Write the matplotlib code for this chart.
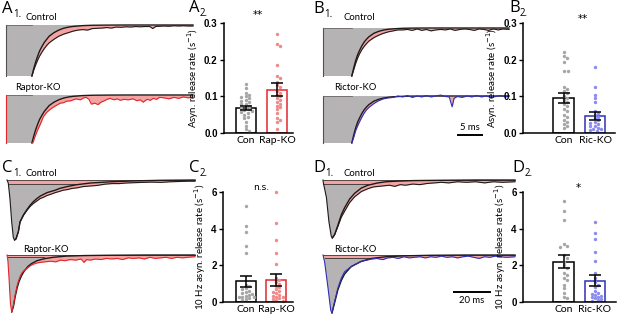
import numpy as np
import matplotlib
matplotlib.use("Agg")
import matplotlib.pyplot as plt

W, H = 617, 315
plt.rcParams['font.family'] = ['Lato', 'DejaVu Sans']

# ---------------- data: bar charts ----------------
groups_a = ["Con", "Rap-KO"]
groups_b = ["Con", "Ric-KO"]

a2_con = [0.135, 0.122, 0.11, 0.105, 0.10, 0.098, 0.095, 0.09, 0.088, 0.085, 0.08, 0.078,
          0.075, 0.07, 0.068, 0.065, 0.062, 0.06, 0.058, 0.055, 0.05, 0.045, 0.04, 0.03, 0.02, 0.01, 0.005]
a2_rap = [0.27, 0.243, 0.237, 0.185, 0.155, 0.15, 0.14, 0.13, 0.125, 0.115, 0.11, 0.105, 0.1,
          0.095, 0.09, 0.085, 0.08, 0.075, 0.07, 0.065, 0.055, 0.04, 0.035, 0.03, 0.012]
a2_mean = [0.068, 0.118]
a2_sem = [0.006, 0.018]

b2_con = [0.22, 0.21, 0.205, 0.195, 0.17, 0.17, 0.125, 0.12, 0.115, 0.11, 0.1, 0.095, 0.09,
          0.085, 0.08, 0.075, 0.065, 0.06, 0.05, 0.045, 0.035, 0.03, 0.025, 0.02, 0.015]
b2_ric = [0.18, 0.125, 0.105, 0.095, 0.085, 0.06, 0.055, 0.05, 0.045, 0.04, 0.035, 0.03, 0.028,
          0.025, 0.02, 0.018, 0.015, 0.012, 0.01, 0.008, 0.005]
b2_mean = [0.095, 0.046]
b2_sem = [0.013, 0.01]

c2_con = [5.25, 4.15, 3.8, 3.05, 2.65, 0.95, 0.85, 0.75, 0.7, 0.6, 0.55, 0.5, 0.45, 0.4, 0.35,
          0.3, 0.28, 0.25, 0.2, 0.15, 0.1]
c2_rap = [6.0, 4.3, 3.4, 2.7, 2.05, 1.3, 1.2, 1.1, 1.0, 0.9, 0.8, 0.7, 0.6, 0.55, 0.5, 0.4,
          0.35, 0.3, 0.25, 0.2, 0.15, 0.1, 0.05]
c2_mean = [1.12, 1.2]
c2_sem = [0.3, 0.33]

d2_con = [5.5, 4.95, 4.45, 3.15, 3.05, 3.0, 2.55, 2.4, 2.2, 2.0, 1.85, 1.6, 1.5, 1.3, 1.2,
          0.95, 0.75, 0.5, 0.3, 0.2]
d2_ric = [4.35, 3.75, 3.45, 2.75, 2.25, 1.6, 1.3, 1.1, 0.95, 0.8, 0.6, 0.5, 0.45, 0.4, 0.35,
          0.3, 0.25, 0.2, 0.15, 0.1, 0.05]
d2_mean = [2.2, 1.17]
d2_sem = [0.35, 0.3]

# ---------------- data: traces (ms, normalised amplitude) ----------------
a_fit_t = [5.4, 5.8, 6.2, 6.6, 7.0, 7.5, 8.0, 8.5, 9.0, 10, 11, 12, 13, 14, 16, 18, 21, 25, 39]
a_fit_v = [-1.0, -0.85, -0.72, -0.61, -0.51, -0.42, -0.34, -0.28, -0.22, -0.15, -0.10, -0.064,
           -0.042, -0.028, -0.012, -0.005, -0.002, 0.0, 0.0]
a_con_t = [5.4, 5.8, 6.2, 6.6, 7.0, 7.5, 8.0, 8.5, 9.0, 10, 11, 12, 13, 14, 15, 16, 17, 18, 19,
           20, 21, 22, 23, 24, 25, 26, 27, 28, 29, 30, 30.6, 31.2, 32, 33, 34, 35, 36, 37, 38, 39]
a_con_v = [-1.0, -0.88, -0.78, -0.69, -0.61, -0.53, -0.46, -0.40, -0.35, -0.28, -0.22, -0.18,
           -0.15, -0.12, -0.10, -0.09, -0.10, -0.07, -0.065, -0.06, -0.05, -0.06, -0.04, -0.045,
           -0.035, -0.04, -0.03, -0.035, -0.03, -0.03, -0.07, -0.03, -0.025, -0.02, -0.025,
           -0.015, -0.02, -0.015, -0.02, -0.02]
a_rap_t = [5.6, 6.0, 6.5, 7.1, 7.8, 8.5, 9.2, 9.9, 10.6, 11.3, 12.0, 12.6, 13.5, 14.6, 15.5,
           16.2, 16.7, 17.3, 17.8, 18.5, 19.2, 19.8, 20.5, 21.1, 21.7, 22.5, 23.2, 23.8, 24.6,
           25.5, 26.5, 27.3, 28.0, 28.6, 29.4, 30.1, 30.7, 31.4, 32.0, 33, 34, 35, 36, 37, 38, 39]
a_rap_v = [-1.0, -0.88, -0.75, -0.62, -0.45, -0.36, -0.30, -0.25, -0.21, -0.17, -0.16, -0.13,
           -0.12, -0.08, -0.10, -0.06, -0.05, -0.09, -0.19, -0.17, -0.20, -0.15, -0.12, -0.09,
           -0.07, -0.10, -0.08, -0.11, -0.09, -0.10, -0.08, -0.12, -0.10, -0.15, -0.09, -0.11,
           -0.07, -0.09, -0.05, -0.06, -0.08, -0.05, -0.07, -0.04, -0.06, -0.04]

b_fit_t = [6.0, 6.4, 6.8, 7.2, 7.6, 8.1, 8.6, 9.1, 9.6, 10.6, 11.6, 12.6, 13.6, 14.6, 16.6,
           18.6, 22, 26, 38.75]
b_fit_v = [-1.0, -0.83, -0.68, -0.56, -0.47, -0.37, -0.29, -0.23, -0.18, -0.11, -0.07, -0.043,
           -0.027, -0.017, -0.006, -0.002, 0.0, 0.0, 0.0]
b_con_t = [6.0, 6.4, 6.8, 7.2, 7.6, 8.1, 8.6, 9.1, 9.6, 10.6, 11.6, 12.6, 13.6, 14.6, 15.6,
           16.6, 17.6, 18.6, 19.6, 20.6, 21.5, 22.5, 23.5, 24.5, 25.5, 26.5, 27.5, 28.5, 29.5,
           30.5, 31.5, 32.5, 33.5, 34.5, 35.5, 36.5, 37.5, 38.75]
b_con_v = [-1.0, -0.87, -0.74, -0.63, -0.54, -0.45, -0.38, -0.32, -0.27, -0.2, -0.15, -0.11,
           -0.08, -0.06, -0.04, -0.04, -0.03, -0.05, -0.02, -0.05, -0.03, -0.06, -0.04, -0.03,
           -0.04, -0.02, -0.05, -0.03, -0.02, -0.03, -0.05, -0.02, -0.03, -0.05, -0.02, -0.04,
           -0.02, -0.03]
b_ric_t = [6.0, 6.4, 6.8, 7.2, 7.6, 8.1, 8.6, 9.1, 9.6, 10.6, 11.6, 12.6, 13.6, 14.6, 15.6,
           16.6, 17.6, 18.6, 19.6, 20.6, 21.5, 22.5, 23.5, 24.5, 25.5, 26.3, 26.9, 27.3, 28.0,
           29, 30, 31, 32, 33, 34, 35, 36, 37, 38, 38.75]
b_ric_v = [-1.0, -0.88, -0.74, -0.64, -0.55, -0.45, -0.36, -0.29, -0.24, -0.16, -0.10, -0.06,
           -0.04, -0.03, 0.0, -0.02, 0.01, -0.03, 0.0, -0.02, 0.01, -0.02, 0.0, 0.02, -0.01,
           -0.02, -0.23, -0.05, -0.01, -0.03, 0.0, -0.02, 0.01, -0.02, 0.0, -0.03, -0.01, 0.01,
           -0.02, 0.0]

c_con_t = [0.0, 0.7, 1.6, 2.6, 3.5, 4.2, 5.0, 6.3, 7.2, 9.1, 10.9, 12.8, 14.6, 16.5, 18.3, 20,
           22, 24, 26.7, 29, 31, 33.3, 36, 38.9, 42, 46, 50, 54, 58, 62, 66, 70, 75, 80, 85, 90,
           95, 100, 104]
c_con_v = [0.0, -0.05, -0.3, -0.7, -0.96, -1.0, -0.98, -0.86, -0.70, -0.59, -0.51, -0.44, -0.39,
           -0.35, -0.31, -0.29, -0.26, -0.24, -0.21, -0.19, -0.17, -0.16, -0.14, -0.13, -0.11,
           -0.10, -0.09, -0.07, -0.06, -0.06, -0.05, -0.045, -0.04, -0.035, -0.04, -0.03, -0.025,
           -0.02, -0.02]
c_con_fit_dt = [0, 0.8, 2.1, 3.0, 4.9, 6.7, 8.6, 10.4, 12.3, 14.1, 16, 18, 22.5, 25, 29, 34, 42,
                53, 66, 81, 99.8]
c_con_fit_v = [-1.0, -0.98, -0.86, -0.70, -0.58, -0.50, -0.42, -0.36, -0.31, -0.27, -0.24, -0.21,
               -0.17, -0.14, -0.11, -0.08, -0.05, -0.03, -0.015, -0.005, 0.0]
c_rap_t = [0.0, 0.5, 1.2, 1.9, 2.6, 3.3, 4.4, 5.4, 6.3, 7.2, 8.1, 9.5, 10.9, 12.8, 14.6, 16.5,
           18.3, 21, 24, 27, 29.6, 32, 35, 38, 41, 42.6, 44, 46, 49, 52, 55, 58, 61, 64, 67, 70,
           73, 76, 79, 82, 85, 88, 91, 94, 97, 100, 104]
c_rap_v = [0.0, -0.1, -0.45, -0.85, -1.0, -0.92, -0.72, -0.56, -0.46, -0.38, -0.32, -0.27, -0.24,
           -0.19, -0.16, -0.14, -0.13, -0.12, -0.11, -0.12, -0.09, -0.10, -0.08, -0.09, -0.07,
           -0.13, -0.08, -0.09, -0.07, -0.08, -0.06, -0.07, -0.06, -0.08, -0.05, -0.06, -0.05,
           -0.07, -0.04, -0.06, -0.05, -0.04, -0.06, -0.04, -0.05, -0.04, -0.03]
c_rap_fit_dt = [0, 1, 2, 3, 4, 5.5, 7, 9, 11, 14, 18, 23, 30, 40, 55, 75, 101.4]
c_rap_fit_v = [-1.0, -0.9, -0.72, -0.58, -0.47, -0.36, -0.28, -0.2, -0.15, -0.1, -0.065, -0.04,
               -0.02, -0.01, -0.004, 0.0, 0.0]

d_con_t = [0.0, 0.2, 1.9, 3.3, 4.6, 5.2, 6.5, 8.3, 10.2, 12.0, 14.8, 17.6, 21.3, 25, 28, 31,
           34, 37, 40, 43, 46, 50, 54, 58, 62, 66, 70, 75, 80, 85, 90, 95, 100, 107]
d_con_v = [0.0, -0.05, -0.3, -0.72, -0.97, -1.0, -0.94, -0.8, -0.64, -0.54, -0.39, -0.29, -0.2,
           -0.15, -0.12, -0.11, -0.1, -0.09, -0.11, -0.08, -0.09, -0.07, -0.08, -0.06, -0.05,
           -0.04, -0.05, -0.03, -0.04, -0.03, -0.05, -0.03, -0.04, -0.03]
d_con_fit_dt = [0, 1.3, 3.1, 5.0, 6.8, 9.6, 12.4, 16.1, 19.8, 25.4, 30, 36, 45, 60, 80, 101.8]
d_con_fit_v = [-1.0, -0.94, -0.78, -0.6, -0.48, -0.33, -0.23, -0.14, -0.09, -0.05, -0.03, -0.02,
               -0.01, -0.005, 0.0, 0.0]
d_ric_t = [0.0, 0.9, 2.8, 4.3, 5.0, 6.5, 8.3, 10.2, 12.0, 15.7, 21.3, 26.9, 30, 33.3, 36, 39,
           42, 45, 48, 51, 54, 57, 60, 63, 66, 69, 72, 75, 78, 81, 84, 87, 90, 93, 96, 99, 102,
           107]
d_ric_v = [0.0, -0.12, -0.57, -0.95, -1.0, -0.8, -0.57, -0.4, -0.29, -0.2, -0.11, -0.07, -0.06,
           -0.08, -0.05, -0.04, -0.06, -0.03, -0.05, -0.04, -0.03, -0.05, -0.03, -0.04, -0.02,
           -0.04, -0.03, -0.05, -0.03, -0.02, -0.04, -0.06, -0.03, -0.04, -0.02, -0.03, -0.04,
           -0.03]
d_ric_fit_dt = [0, 1.5, 3.3, 5.2, 7.0, 10.7, 16.3, 22, 30, 40, 55, 75, 102]
d_ric_fit_v = [-1.0, -0.82, -0.6, -0.44, -0.33, -0.2, -0.11, -0.06, -0.03, -0.015, -0.005, 0.0, 0.0]

# ---------------- styles ----------------
RED = '#e3262b'
BLUE = '#2f2fb8'
PINK = '#f4a3a3'
GRAY = '#b5b3b3'
DARK = '#1e1a1a'
PT_GRAY = '#a6a6a6'
PT_PINK = '#f08a8a'
PT_BLUE = '#8c8cf0'
LABEL_FONT = ['Open Sans', 'DejaVu Sans']

fig = plt.figure(figsize=(W / 100, H / 100), dpi=100)


def px_axes(x0, y0, x1, y1):
    return fig.add_axes([x0 / W, 1 - y1 / H, (x1 - x0) / W, (y1 - y0) / H])


def ftext(x, y, s, **kw):
    return fig.text(x / W, 1 - y / H, s, **kw)


def trace_ax(box, tmax):
    ax = px_axes(*box)
    ax.set_xlim(0, tmax)
    ax.set_ylim(-1, 0)
    ax.axis('off')
    return ax


def draw_ab(ax, fit_t, fit_v, dt, dv, col, edge_col):
    dt = np.asarray(dt); dv = np.asarray(dv)
    ax.fill_between(dt, dv, 0, color=PINK, lw=0, zorder=1, clip_on=False)
    gt = np.concatenate([[0.0], fit_t])
    gv = np.concatenate([[-1.0], fit_v])
    ax.fill_between(gt, gv, 0, facecolor=GRAY, edgecolor='none', zorder=2, clip_on=False)
    ax.plot([0, 0], [0, -1], color=edge_col, lw=0.8, zorder=3, clip_on=False)
    ax.plot([0, fit_t[0]], [0, 0], color='#6a6666', lw=0.6, zorder=3, clip_on=False)
    ax.plot(fit_t, fit_v, color=DARK, lw=1.0, zorder=4, clip_on=False)
    ax.plot(dt, dv, color=col, lw=0.8, zorder=5, clip_on=False)


def draw_cd(ax, dt, dv, fit_dt, fit_v, line_level, col):
    dt = np.asarray(dt); dv = np.asarray(dv)
    ipk = int(np.argmin(dv))
    tpk = dt[ipk]
    ft = tpk + np.asarray(fit_dt)
    fv = np.asarray(fit_v)
    ax.fill_between(dt, dv, 0, color=PINK, lw=0, zorder=1, clip_on=False)
    gt = np.concatenate([dt[:ipk + 1], ft[1:]])
    gv = np.concatenate([dv[:ipk + 1], fv[1:]])
    ax.fill_between(gt, gv, line_level, where=gv < line_level, interpolate=True,
                    facecolor=GRAY, edgecolor='none', zorder=2, clip_on=False)
    ax.axhline(0, color='#3a3030', lw=0.6, zorder=3, clip_on=False)
    end = gt[np.where(gv < line_level)[0][-1]]
    ax.plot([dt[1], end], [line_level, line_level], color='#4a4040', lw=0.7, zorder=3,
            clip_on=False)
    ax.plot(ft, fv, color=DARK, lw=1.0, zorder=4, clip_on=False)
    ax.plot(dt, dv, color=col, lw=0.8, zorder=5, clip_on=False)


# A1
ax = trace_ax((6, 25, 193, 76), 39)
draw_ab(ax, a_fit_t, a_fit_v, a_con_t, a_con_v, DARK, '#555050')
ax = trace_ax((6, 95, 193, 143), 39)
draw_ab(ax, a_fit_t, a_fit_v, a_rap_t, a_rap_v, RED, RED)
# B1
ax = trace_ax((323, 28, 509, 76), 38.75)
draw_ab(ax, b_fit_t, b_fit_v, b_con_t, b_con_v, DARK, '#555050')
axb = trace_ax((323, 96, 509, 143), 38.75)
draw_ab(axb, b_fit_t, b_fit_v, b_ric_t, b_ric_v, BLUE, '#555050')
axb.plot([28.1, 33.1], [-0.83, -0.83], color='black', lw=1.4, clip_on=False)
axb.text(30.6, -0.68, '5 ms', ha='center', va='center', fontsize=6.8)
# C1
ax = trace_ax((7, 180, 195, 240), 104)
draw_cd(ax, c_con_t, c_con_v, c_con_fit_dt, c_con_fit_v, -0.07, DARK)
ax = trace_ax((7, 255, 195, 312), 104)
draw_cd(ax, c_rap_t, c_rap_v, c_rap_fit_dt, c_rap_fit_v, -0.04, RED)
# D1
ax = trace_ax((323, 180, 515, 238), 107)
draw_cd(ax, d_con_t, d_con_v, d_con_fit_dt, d_con_fit_v, -0.07, DARK)
axd = trace_ax((323, 255, 515, 313), 107)
draw_cd(axd, d_ric_t, d_ric_v, d_ric_fit_dt, d_ric_fit_v, -0.05, BLUE)
axd.plot([72.8, 92.8], [-0.64, -0.64], color='black', lw=1.4, clip_on=False)
axd.text(82.8, -0.79, '20 ms', ha='center', va='center', fontsize=6.8)

# trace titles
for (x, y, s) in [(41, 17, 'Control'), (38, 88, 'Raptor-KO'), (359, 17, 'Control'),
                  (355, 88, 'Rictor-KO'), (41, 174, 'Control'), (46, 249, 'Raptor-KO'),
                  (359, 174, 'Control'), (355, 249, 'Rictor-KO')]:
    ftext(x, y, s, ha='center', va='center', fontsize=6.8)


# ---------------- bar charts ----------------
def swarm_offsets(vals, ymax, hpx, px_per_unit, rad=3.3, step=1.6, maxoff=8.0):
    """Simple beeswarm: offsets (data units) so markers do not overlap."""
    vals = np.asarray(vals, float)
    ypx = vals / ymax * hpx
    order = np.argsort(-vals)
    placed = []
    offs = np.zeros(len(vals))
    n = int(maxoff / step)
    cand = [0.0]
    for k in range(1, n + 1):
        cand += [k * step, -k * step]
    for i in order:
        best = cand[-1]
        for c in cand:
            if all((c - px) ** 2 + (ypx[i] - py) ** 2 >= rad ** 2 for (px, py) in placed):
                best = c
                break
        offs[i] = best / px_per_unit
        placed.append((best, ypx[i]))
    return offs


def bar_panel(box, xlim, ymax, yticks, ytl, labels, con, ko, mean, sem, kcol, kpt, ylabel,
              sig, sig_xy):
    ax = px_axes(*box)
    ax.set_xlim(*xlim)
    ax.set_ylim(0, ymax)
    hpx = box[3] - box[1]
    ppu = (box[2] - box[0]) / (xlim[1] - xlim[0])
    xs = [1, 2]
    ax.bar(xs, mean, width=0.65, color='white', edgecolor=['black', kcol], linewidth=1.1,
           zorder=1)
    for x, vals, c in [(1, con, PT_GRAY), (2, ko, kpt)]:
        offs = swarm_offsets(vals, ymax, hpx, ppu)
        ax.scatter(x + offs, vals, s=6, color=c, linewidths=0, zorder=2, clip_on=False)
    ax.errorbar(xs, mean, yerr=sem, fmt='none', ecolor='black', elinewidth=1.1, capsize=4,
                capthick=1.1, zorder=3)
    for s in ['top', 'right']:
        ax.spines[s].set_visible(False)
    for s in ['left', 'bottom']:
        ax.spines[s].set_linewidth(1.1)
    ax.set_yticks(yticks)
    ax.set_yticklabels(ytl, fontsize=7, fontweight='bold', family=['Liberation Sans'])
    ax.set_xticks(xs)
    ax.set_xticklabels(labels, fontsize=7.5)
    ax.tick_params(axis='y', direction='out', length=3, width=1.0, pad=1.5)
    ax.tick_params(axis='x', length=0, pad=2)
    ax.set_ylabel(ylabel, fontsize=7, labelpad=2)
    ax.text(sig_xy[0], sig_xy[1], sig, ha='center', va='center', fontsize=sig_xy[2],
            family=['DejaVu Sans'], clip_on=False)
    return ax


ylab1 = 'Asyn. release rate (s$^{-1}$)'
ylab2 = '10 Hz asyn. release rate (s$^{-1}$)'
bar_panel((224, 23, 293, 133), (0.29, 2.52), 0.3, [0, 0.1, 0.2, 0.3], ['0.0', '0.1', '0.2', '0.3'],
          groups_a, a2_con, a2_rap, a2_mean, a2_sem, RED, PT_PINK, ylab1, '**', (1.37, 0.322, 7.5))
bar_panel((523, 23, 615, 133), (-0.286, 2.635), 0.3, [0, 0.1, 0.2, 0.3],
          ['0.0', '0.1', '0.2', '0.3'], groups_b, b2_con, b2_ric, b2_mean, b2_sem, BLUE, PT_BLUE,
          ylab1, '**', (1.62, 0.31, 7.5))
bar_panel((223, 192, 293, 302), (0.258, 2.548), 6, [0, 2, 4, 6], ['0', '2', '4', '6'],
          groups_a, c2_con, c2_rap, c2_mean, c2_sem, RED, PT_PINK, ylab2, 'n.s.', (1.5, 6.25, 6.5))
bar_panel((523, 192, 616, 302), (-0.286, 2.667), 6, [0, 2, 4, 6], ['0', '2', '4', '6'],
          groups_b, d2_con, d2_ric, d2_mean, d2_sem, BLUE, PT_BLUE, ylab2, '*', (1.48, 6.2, 7.5))

# panel labels
for (x, y, L, n) in [(2, 13, 'A', '1.'), (189, 12, 'A', '2.'), (313, 13, 'B', '1.'),
                     (509, 12, 'B', '2.'), (2, 172, 'C', '1.'), (189, 172, 'C', '2.'),
                     (313, 172, 'D', '1.'), (512, 172, 'D', '2.')]:
    t = ftext(x, y, L, fontsize=12, va='baseline', ha='left', family=LABEL_FONT)
    fig.add_artist(plt.Annotation(n, xy=(1.0, 0.0), xycoords=t, xytext=(0.2, 0),
                                  textcoords='offset points', fontsize=7, va='baseline',
                                  ha='left', family=LABEL_FONT, annotation_clip=False))

fig.savefig('out.png', dpi=100)
